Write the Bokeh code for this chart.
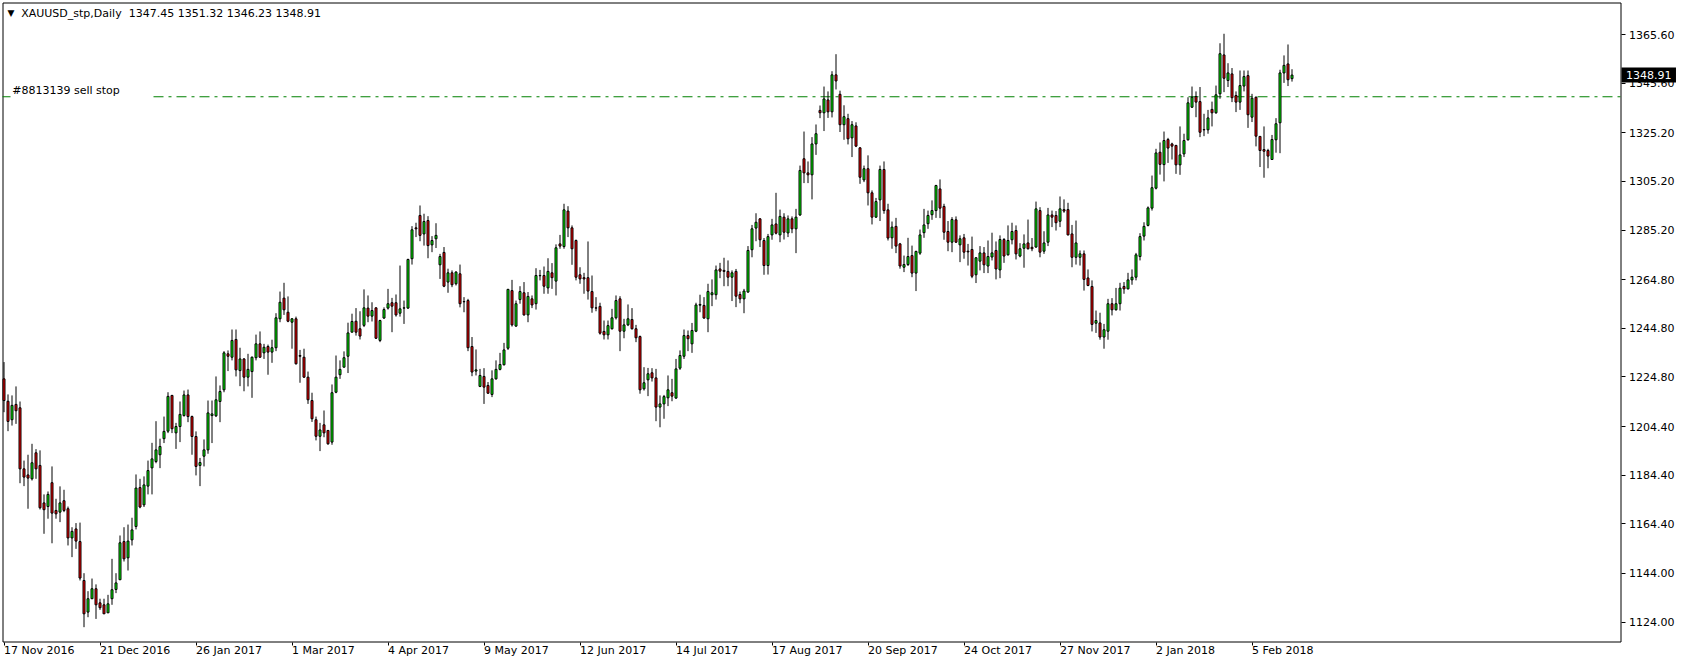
from bokeh.plotting import figure
from bokeh.models import Range1d, FixedTicker, ColumnDataSource, Label, PrintfTickFormatter
from bokeh.embed import file_html
from bokeh.resources import INLINE

symbol_header = "XAUUSD_stp,Daily\u00a0 1347.45 1351.32 1346.23 1348.91"
order_label = "#8813139 sell stop"
sell_stop_price = 1340.0
last_close = 1348.91

date_ticks = [0, 24, 48, 72, 96, 120, 144, 168, 192, 216, 240, 264, 288, 312]
date_labels = ["17 Nov 2016", "21 Dec 2016", "26 Jan 2017", "1 Mar 2017", "4 Apr 2017",
               "9 May 2017", "12 Jun 2017", "14 Jul 2017", "17 Aug 2017", "20 Sep 2017",
               "24 Oct 2017", "27 Nov 2017", "2 Jan 2018", "5 Feb 2018"]
price_ticks = [1124.00, 1144.00, 1164.40, 1184.40, 1204.40, 1224.80, 1244.80,
               1264.80, 1285.20, 1305.20, 1325.20, 1345.60, 1365.60]

opens = [
    1224.0, 1214.8, 1207.2, 1213.5, 1212.1, 1187.0, 1184.5, 1182.9, 1193.6, 1188.4,
    1173.0, 1171.5, 1181.3, 1169.9, 1169.2, 1173.9, 1170.6, 1158.6, 1162.3, 1157.1,
    1141.1, 1128.1, 1133.6, 1137.7, 1131.9, 1131.1, 1127.8, 1133.6, 1137.4, 1141.4,
    1157.1, 1150.4, 1157.8, 1163.3, 1179.3, 1172.2, 1179.9, 1187.4, 1190.0, 1192.8,
    1199.4, 1202.5, 1217.2, 1201.8, 1204.4, 1208.9, 1217.4, 1208.5, 1200.3, 1188.4,
    1192.2, 1194.8, 1208.9, 1208.8, 1214.7, 1219.5, 1234.3, 1232.9, 1240.2, 1227.4,
    1232.2, 1224.7, 1227.0, 1232.7, 1238.4, 1234.7, 1237.3, 1235.0, 1236.8, 1248.7,
    1257.2, 1251.4, 1247.3, 1248.7, 1233.6, 1232.9, 1224.7, 1215.1, 1207.2, 1200.4,
    1205.1, 1202.8, 1198.0, 1218.5, 1225.7, 1228.8, 1233.3, 1243.2, 1247.7, 1244.6,
    1246.0, 1253.1, 1249.8, 1253.2, 1239.8, 1249.0, 1253.1, 1255.3, 1255.3, 1251.0,
    1253.1, 1253.1, 1273.4, 1286.1, 1291.2, 1283.6, 1289.1, 1279.1, 1281.6, 1270.9,
    1276.0, 1263.8, 1267.6, 1263.1, 1267.2, 1255.8, 1256.2, 1237.3, 1227.2, 1220.9,
    1225.0, 1221.3, 1217.6, 1224.0, 1227.9, 1229.8, 1236.6, 1260.3, 1245.7, 1256.6,
    1259.4, 1250.3, 1256.9, 1254.9, 1266.4, 1266.5, 1261.4, 1267.6, 1264.2, 1279.5,
    1278.4, 1293.0, 1286.1, 1280.9, 1266.8, 1265.6, 1265.6, 1259.9, 1253.2, 1253.8,
    1243.5, 1242.1, 1244.6, 1249.1, 1256.9, 1243.6, 1246.2, 1248.4, 1244.6, 1241.4,
    1219.9, 1223.6, 1226.5, 1224.4, 1212.4, 1213.7, 1216.2, 1218.3, 1216.1, 1228.4,
    1233.3, 1241.8, 1238.4, 1243.6, 1254.3, 1254.2, 1248.7, 1258.6, 1258.6, 1269.2,
    1268.6, 1268.2, 1265.8, 1268.2, 1258.7, 1256.9, 1259.7, 1277.1, 1286.0, 1289.8,
    1280.9, 1270.6, 1283.2, 1287.7, 1283.2, 1290.5, 1284.0, 1289.8, 1285.7, 1291.4,
    1314.5, 1308.7, 1307.9, 1320.6, 1334.4, 1333.4, 1338.7, 1333.8, 1349.0, 1341.0,
    1328.5, 1331.0, 1323.1, 1328.0, 1319.0, 1305.8, 1310.4, 1300.5, 1290.5, 1297.6,
    1310.1, 1293.5, 1282.0, 1286.7, 1279.5, 1269.9, 1271.0, 1274.7, 1267.5, 1275.7,
    1284.1, 1287.8, 1291.5, 1293.2, 1302.1, 1294.9, 1284.6, 1280.2, 1289.4, 1279.1,
    1282.0, 1276.5, 1277.2, 1266.8, 1272.4, 1275.8, 1270.4, 1274.1, 1276.8, 1268.8,
    1281.3, 1275.0, 1281.2, 1285.0, 1274.5, 1277.7, 1279.9, 1278.1, 1278.2, 1293.2,
    1276.5, 1280.2, 1291.4, 1291.2, 1288.8, 1293.6, 1293.6, 1283.6, 1274.0, 1274.0,
    1275.4, 1265.5, 1262.0, 1246.9, 1247.0, 1241.2, 1243.6, 1254.9, 1252.4, 1254.9,
    1262.0, 1261.0, 1264.7, 1265.8, 1274.3, 1282.7, 1287.1, 1294.2, 1302.4, 1317.2,
    1312.1, 1322.4, 1320.6, 1320.0, 1312.0, 1316.5, 1322.3, 1335.7, 1340.1, 1338.0,
    1326.5, 1326.4, 1334.8, 1333.4, 1341.2, 1357.2, 1346.7, 1349.4, 1340.5, 1337.8,
    1344.4, 1348.7, 1331.6, 1339.8, 1323.7, 1318.3, 1317.9, 1314.2, 1322.3, 1329.3,
    1349.8, 1353.5, 1347.45]

highs = [
    1230.9, 1217.6, 1217.2, 1220.9, 1214.7, 1190.4, 1192.8, 1197.3, 1195.1, 1194.6,
    1176.5, 1177.7, 1188.0, 1174.7, 1179.8, 1178.4, 1171.5, 1163.0, 1164.7, 1164.9,
    1144.1, 1136.7, 1141.9, 1139.5, 1133.6, 1133.6, 1135.2, 1150.0, 1144.1, 1159.6,
    1163.0, 1164.1, 1166.9, 1184.7, 1182.9, 1183.9, 1190.4, 1197.7, 1206.6, 1199.4,
    1208.5, 1218.5, 1217.4, 1205.9, 1214.7, 1219.2, 1219.6, 1208.9, 1202.4, 1191.5,
    1199.1, 1215.1, 1215.1, 1225.0, 1221.3, 1235.4, 1235.7, 1244.3, 1244.3, 1236.8,
    1232.5, 1234.3, 1233.2, 1242.2, 1243.5, 1238.4, 1238.1, 1240.1, 1251.0, 1259.9,
    1263.5, 1257.9, 1249.0, 1249.6, 1235.9, 1236.4, 1227.0, 1218.3, 1208.5, 1205.9,
    1211.0, 1202.8, 1221.7, 1233.6, 1231.6, 1235.3, 1247.1, 1250.8, 1253.1, 1251.8,
    1260.8, 1258.3, 1255.5, 1253.4, 1248.3, 1253.4, 1261.0, 1257.3, 1258.7, 1270.6,
    1256.2, 1273.4, 1286.8, 1288.2, 1295.3, 1291.9, 1290.9, 1282.7, 1288.0, 1275.4,
    1278.2, 1269.3, 1268.6, 1268.3, 1271.0, 1257.6, 1256.9, 1241.2, 1236.1, 1228.1,
    1228.4, 1222.7, 1227.5, 1231.6, 1234.7, 1238.8, 1261.0, 1264.7, 1256.2, 1262.1,
    1263.8, 1259.7, 1258.3, 1269.5, 1268.8, 1270.2, 1273.6, 1271.6, 1279.3, 1283.2,
    1296.0, 1295.0, 1287.1, 1281.3, 1269.9, 1267.6, 1280.5, 1266.5, 1257.6, 1255.3,
    1248.0, 1248.0, 1252.8, 1258.3, 1258.0, 1248.7, 1254.6, 1253.1, 1246.2, 1241.8,
    1228.8, 1228.5, 1228.4, 1228.1, 1217.2, 1217.4, 1225.4, 1224.0, 1232.2, 1235.7,
    1244.3, 1243.9, 1247.0, 1255.3, 1258.6, 1257.6, 1263.1, 1264.9, 1270.6, 1271.7,
    1273.8, 1272.7, 1268.6, 1269.2, 1259.9, 1261.0, 1278.6, 1287.3, 1292.1, 1290.1,
    1281.9, 1283.6, 1289.8, 1300.5, 1293.6, 1292.1, 1291.2, 1290.8, 1293.9, 1311.7,
    1325.7, 1313.4, 1323.4, 1328.6, 1336.4, 1344.2, 1342.2, 1350.5, 1357.5, 1342.5,
    1336.5, 1333.0, 1330.0, 1329.5, 1319.3, 1311.7, 1315.9, 1301.5, 1298.4, 1311.7,
    1313.4, 1296.0, 1288.7, 1290.2, 1279.9, 1274.7, 1282.0, 1278.8, 1276.7, 1285.4,
    1293.9, 1293.2, 1297.4, 1303.8, 1306.0, 1296.0, 1288.9, 1290.5, 1290.8, 1283.0,
    1283.6, 1279.5, 1282.5, 1274.0, 1278.6, 1278.2, 1280.9, 1284.1, 1280.5, 1283.0,
    1281.9, 1287.1, 1288.2, 1287.1, 1279.8, 1283.4, 1289.5, 1281.9, 1296.9, 1294.6,
    1284.7, 1294.3, 1293.2, 1293.0, 1299.0, 1297.8, 1296.4, 1287.3, 1289.1, 1276.8,
    1276.8, 1269.0, 1264.5, 1252.1, 1251.2, 1246.6, 1256.9, 1257.2, 1261.4, 1263.5,
    1263.8, 1267.6, 1269.0, 1275.8, 1283.9, 1288.4, 1294.9, 1307.6, 1318.6, 1321.2,
    1325.7, 1323.1, 1321.1, 1320.2, 1327.8, 1324.8, 1339.8, 1344.2, 1342.2, 1344.0,
    1333.0, 1334.6, 1338.0, 1344.6, 1362.0, 1365.9, 1353.8, 1351.8, 1342.2, 1350.8,
    1350.8, 1350.8, 1341.2, 1340.1, 1323.7, 1327.8, 1318.6, 1324.3, 1331.2, 1351.1,
    1357.0, 1361.5, 1351.32]

lows = [
    1210.3, 1202.5, 1204.8, 1205.5, 1181.1, 1179.9, 1170.6, 1182.2, 1182.9, 1170.3,
    1160.3, 1166.5, 1156.4, 1166.5, 1165.1, 1169.2, 1155.5, 1150.7, 1154.1, 1141.1,
    1121.9, 1126.0, 1133.6, 1125.3, 1129.0, 1127.4, 1127.8, 1131.1, 1135.9, 1141.4,
    1148.9, 1145.2, 1155.5, 1162.1, 1170.8, 1171.3, 1176.5, 1176.5, 1189.3, 1187.3,
    1197.6, 1201.7, 1201.7, 1195.2, 1198.0, 1208.5, 1206.2, 1192.8, 1184.3, 1179.9,
    1188.0, 1193.2, 1197.6, 1208.3, 1206.2, 1218.5, 1227.2, 1231.6, 1225.0, 1221.0,
    1218.9, 1220.9, 1216.2, 1231.6, 1232.7, 1232.2, 1225.7, 1230.6, 1235.4, 1247.3,
    1250.3, 1247.3, 1236.4, 1229.9, 1222.4, 1224.4, 1213.7, 1206.3, 1198.7, 1194.3,
    1200.0, 1196.9, 1196.9, 1218.1, 1224.0, 1228.8, 1226.4, 1243.2, 1241.8, 1240.2,
    1245.3, 1247.3, 1247.6, 1240.4, 1239.1, 1248.7, 1252.5, 1243.2, 1249.6, 1249.6,
    1246.6, 1252.8, 1271.0, 1282.3, 1280.6, 1278.8, 1273.6, 1276.1, 1277.8, 1265.1,
    1261.7, 1259.4, 1261.7, 1262.4, 1253.4, 1251.4, 1235.4, 1225.1, 1225.4, 1220.6,
    1213.7, 1217.9, 1216.5, 1223.7, 1227.5, 1229.5, 1235.9, 1245.5, 1245.4, 1254.9,
    1250.0, 1247.3, 1253.1, 1252.5, 1264.5, 1259.0, 1259.0, 1261.0, 1258.3, 1277.5,
    1277.5, 1282.3, 1270.9, 1264.5, 1263.1, 1259.0, 1256.6, 1251.2, 1251.8, 1242.2,
    1240.2, 1240.2, 1244.3, 1248.4, 1235.4, 1240.7, 1245.7, 1244.3, 1239.1, 1217.9,
    1219.2, 1216.9, 1222.9, 1206.6, 1204.1, 1207.6, 1212.8, 1214.8, 1215.8, 1227.7,
    1232.2, 1235.4, 1234.7, 1243.2, 1251.4, 1248.7, 1243.2, 1253.9, 1256.6, 1265.4,
    1262.1, 1262.1, 1256.0, 1253.5, 1255.1, 1251.0, 1259.4, 1274.0, 1280.6, 1278.2,
    1266.8, 1266.9, 1281.2, 1283.4, 1280.2, 1281.3, 1282.3, 1283.9, 1275.7, 1291.0,
    1304.5, 1304.5, 1297.8, 1316.1, 1331.2, 1325.9, 1331.3, 1331.5, 1343.0, 1325.5,
    1322.3, 1320.4, 1315.2, 1319.3, 1304.2, 1304.9, 1295.3, 1287.5, 1290.2, 1288.9,
    1291.9, 1280.9, 1277.5, 1275.7, 1269.3, 1267.9, 1270.4, 1265.8, 1260.1, 1275.0,
    1282.0, 1285.7, 1289.4, 1290.2, 1290.1, 1281.2, 1276.5, 1276.1, 1279.9, 1272.0,
    1273.4, 1270.6, 1265.4, 1263.4, 1268.6, 1267.5, 1267.5, 1272.7, 1264.9, 1265.4,
    1271.7, 1274.7, 1279.3, 1273.1, 1274.0, 1269.7, 1277.2, 1276.5, 1277.9, 1274.0,
    1275.4, 1278.6, 1286.4, 1285.0, 1286.4, 1292.3, 1283.0, 1269.9, 1271.0, 1270.6,
    1260.3, 1262.1, 1243.5, 1242.9, 1240.1, 1236.4, 1240.1, 1250.1, 1252.1, 1252.1,
    1259.0, 1260.8, 1262.7, 1264.5, 1272.7, 1280.9, 1286.7, 1293.2, 1301.9, 1308.0,
    1305.2, 1312.8, 1314.2, 1308.3, 1307.9, 1315.2, 1322.0, 1335.4, 1331.6, 1323.4,
    1323.8, 1324.8, 1327.8, 1333.0, 1339.2, 1341.9, 1344.0, 1337.8, 1333.7, 1334.6,
    1342.2, 1327.2, 1329.6, 1319.6, 1311.1, 1306.7, 1310.6, 1314.2, 1317.0, 1316.8,
    1345.7, 1344.4, 1346.23]

closes = [
    1215.1, 1206.5, 1213.1, 1210.9, 1187.0, 1183.6, 1183.2, 1189.5, 1187.0, 1171.0,
    1170.2, 1176.5, 1168.8, 1168.5, 1173.0, 1169.9, 1158.6, 1161.3, 1157.3, 1142.1,
    1127.4, 1133.6, 1137.7, 1131.1, 1129.9, 1127.4, 1131.5, 1137.3, 1140.1, 1156.6,
    1150.0, 1157.3, 1161.9, 1179.1, 1171.3, 1180.4, 1186.3, 1191.1, 1194.8, 1196.2,
    1202.4, 1216.8, 1203.5, 1204.4, 1209.4, 1217.4, 1208.5, 1200.3, 1188.0, 1189.6,
    1194.8, 1210.0, 1209.6, 1215.4, 1218.8, 1234.7, 1233.3, 1239.8, 1227.7, 1232.2,
    1224.7, 1227.9, 1232.9, 1238.4, 1232.9, 1237.0, 1235.0, 1236.8, 1249.1, 1255.5,
    1252.4, 1247.7, 1248.7, 1230.2, 1233.3, 1224.7, 1215.4, 1207.6, 1200.4, 1203.0,
    1201.8, 1197.3, 1218.3, 1224.7, 1227.9, 1232.7, 1242.9, 1247.6, 1243.2, 1241.6,
    1253.2, 1249.8, 1252.1, 1240.7, 1248.0, 1252.5, 1254.9, 1253.9, 1250.3, 1252.8,
    1253.2, 1273.1, 1285.3, 1285.7, 1283.0, 1288.7, 1278.8, 1280.9, 1283.0, 1274.3,
    1262.1, 1267.6, 1262.7, 1267.9, 1254.9, 1255.7, 1236.8, 1226.8, 1227.7, 1225.4,
    1220.6, 1218.1, 1224.0, 1227.9, 1229.9, 1235.9, 1260.8, 1246.2, 1254.9, 1259.9,
    1250.3, 1257.9, 1254.4, 1266.5, 1266.5, 1262.1, 1268.2, 1265.6, 1277.9, 1278.6,
    1293.5, 1286.1, 1277.5, 1265.8, 1265.1, 1265.1, 1260.1, 1253.2, 1253.1, 1242.8,
    1242.1, 1245.9, 1249.1, 1256.2, 1243.6, 1246.2, 1248.7, 1244.6, 1240.9, 1219.5,
    1222.4, 1226.1, 1224.4, 1212.4, 1213.7, 1216.7, 1219.5, 1216.9, 1228.1, 1233.6,
    1241.8, 1240.5, 1243.9, 1254.4, 1254.6, 1249.0, 1259.9, 1259.4, 1268.8, 1268.3,
    1268.2, 1265.8, 1267.6, 1258.0, 1256.9, 1260.1, 1276.8, 1285.7, 1288.4, 1281.2,
    1270.6, 1282.5, 1287.3, 1283.9, 1290.8, 1284.3, 1289.8, 1285.7, 1290.5, 1309.7,
    1308.7, 1307.9, 1320.6, 1324.8, 1333.4, 1339.1, 1333.8, 1349.0, 1346.5, 1328.5,
    1331.8, 1322.7, 1328.5, 1319.7, 1306.9, 1310.4, 1300.5, 1290.5, 1296.9, 1310.1,
    1293.2, 1281.9, 1286.4, 1278.6, 1270.4, 1271.0, 1274.3, 1267.5, 1276.4, 1283.2,
    1287.3, 1291.2, 1293.2, 1303.5, 1294.2, 1284.3, 1280.2, 1289.5, 1280.2, 1281.6,
    1276.1, 1276.2, 1266.2, 1273.8, 1275.8, 1270.9, 1274.3, 1275.8, 1269.2, 1281.3,
    1274.5, 1280.9, 1284.6, 1275.4, 1277.5, 1279.5, 1277.5, 1277.5, 1293.9, 1276.1,
    1279.9, 1291.4, 1290.5, 1288.2, 1293.9, 1293.0, 1283.2, 1274.0, 1279.9, 1275.4,
    1264.9, 1262.4, 1246.4, 1248.0, 1241.2, 1244.2, 1254.9, 1252.4, 1254.9, 1261.3,
    1261.0, 1264.7, 1265.8, 1275.0, 1282.5, 1286.7, 1294.3, 1302.6, 1316.9, 1312.2,
    1322.0, 1318.9, 1319.7, 1312.0, 1316.1, 1322.0, 1337.5, 1339.8, 1337.8, 1325.4,
    1326.4, 1331.3, 1333.4, 1340.8, 1357.7, 1347.6, 1349.8, 1339.6, 1337.8, 1344.6,
    1348.3, 1332.6, 1339.4, 1323.8, 1317.9, 1317.6, 1315.6, 1322.4, 1328.9, 1349.8,
    1352.9, 1347.0, 1348.91]

assert len(opens) == len(highs) == len(lows) == len(closes)

# ---------------- layout (page coordinates = canvas coordinates) ----------------
# The plotting frame spans the whole canvas; the price/time scales are real Bokeh
# axes pinned (fixed_location) at the edges of the MT4-style chart box.
W, H = 1684, 665
BOX_L, BOX_T, BOX_R, BOX_B = 2, 2, 1620, 641
PX_PER_BAR = 4.0
BAR0_PX = 3.5                 # canvas x of the first bar (pixel centre -> crisp candles)
PX_PER_USD = 2.432
REF_PRICE, REF_PX = 1365.60, 34.0   # price whose tick sits at canvas y 34

def px_to_bar(px):
    return (px - BAR0_PX) / PX_PER_BAR

def py_to_price(py):
    return REF_PRICE - (py - REF_PX) / PX_PER_USD

BULL, BEAR = "#00ff00", "#ff0000"
FONT = "DejaVu Sans"

n = len(opens)
src = ColumnDataSource(dict(
    x=list(range(n)),
    low=lows, high=highs,
    top=[max(o, c) for o, c in zip(opens, closes)],
    bottom=[min(o, c) for o, c in zip(opens, closes)],
    color=[BULL if c >= o else BEAR for o, c in zip(opens, closes)],
))

p = figure(width=W, height=H, output_backend="svg", toolbar_location=None,
           y_axis_location="right",
           x_range=Range1d(px_to_bar(0), px_to_bar(W)),
           y_range=Range1d(py_to_price(H), py_to_price(0)),
           min_border_left=0, min_border_top=0, min_border_right=0, min_border_bottom=0)

p.background_fill_color = "white"
p.border_fill_color = "white"
p.outline_line_color = None
p.xgrid.visible = False
p.ygrid.visible = False

# chart box
p.quad(left=[px_to_bar(BOX_L + 0.5)], right=[px_to_bar(BOX_R + 0.5)],
       top=[py_to_price(BOX_T + 0.5)], bottom=[py_to_price(BOX_B + 0.5)],
       fill_color=None, line_color="black", line_width=1)

# time axis: tick marks from the axis; labels left-aligned at the tick (MT4 style)
xa = p.xaxis[0]
xa.fixed_location = py_to_price(BOX_B + 0.5)
xa.ticker = FixedTicker(ticks=date_ticks)
xa.major_label_overrides = {t: "" for t in date_ticks}
xa.minor_tick_line_color = None
xa.major_tick_in = 0
xa.major_tick_out = 3
xa.major_tick_line_color = "black"
xa.axis_line_color = None
xa.major_label_standoff = 0
xa.major_label_text_font_size = "11px"

# price axis
ya = p.yaxis[0]
ya.fixed_location = px_to_bar(BOX_R + 0.5)
ya.ticker = FixedTicker(ticks=price_ticks)
ya.formatter = PrintfTickFormatter(format="%.2f")
ya.minor_tick_line_color = None
ya.major_tick_in = 0
ya.major_tick_out = 4
ya.major_tick_line_color = "black"
ya.axis_line_color = None
ya.major_label_standoff = 4
ya.major_label_text_font = FONT
ya.major_label_text_font_size = "11px"
ya.major_label_text_color = "black"

# order line (dash-dot, broken where the order label sits)
p.segment(x0=[px_to_bar(BOX_L), px_to_bar(153)], x1=[px_to_bar(10), px_to_bar(BOX_R)],
          y0=[sell_stop_price, sell_stop_price], y1=[sell_stop_price, sell_stop_price],
          line_color="#008000", line_width=1, line_dash="10 5 3 5")

# candles
p.segment(x0="x", y0="low", x1="x", y1="high", source=src, line_color="black", line_width=1)
p.vbar(x="x", width=0.5, top="top", bottom="bottom", source=src,
       fill_color="color", line_color="black", line_width=1)

# texts
p.add_layout(Label(x=px_to_bar(7), y=py_to_price(12.5), text="\u25bc",
                   text_font=FONT, text_font_size="9px", text_color="black",
                   text_baseline="middle"))
p.add_layout(Label(x=px_to_bar(20.7), y=py_to_price(13.3), text=symbol_header,
                   text_font=FONT, text_font_size="11px", text_color="black",
                   text_baseline="middle"))
p.add_layout(Label(x=px_to_bar(11.7), y=sell_stop_price + 6.7 / PX_PER_USD,
                   text=order_label, text_font=FONT, text_font_size="11px",
                   text_color="black", text_baseline="middle"))

for t, lab in zip(date_ticks, date_labels):
    p.add_layout(Label(x=t, y=py_to_price(BOX_B + 2), text=lab,
                       text_font=FONT, text_font_size="11px", text_color="black",
                       text_align="left", text_baseline="top"))

# last price marker on the price scale
p.add_layout(Label(x=px_to_bar(BOX_R + 1), y=last_close,
                   text="\u00a0" + f"{last_close:.2f}" + "\u00a0",
                   text_font=FONT, text_font_size="11px", text_color="white",
                   text_align="left", text_baseline="middle",
                   background_fill_color="black", padding=1))

open("out.html", "w").write(file_html(p, INLINE))
